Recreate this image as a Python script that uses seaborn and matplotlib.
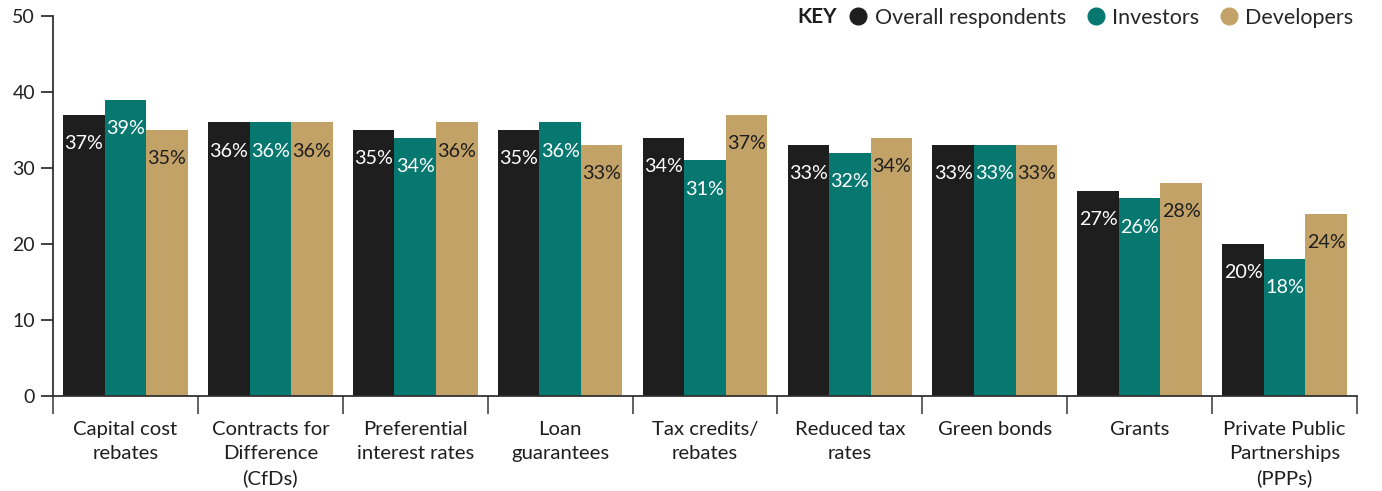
import matplotlib
matplotlib.use("Agg")
import matplotlib.pyplot as plt
from matplotlib.lines import Line2D
import numpy as np
import pandas as pd
import seaborn as sns

categories = [
    "Capital cost\nrebates",
    "Contracts for\nDifference\n(CfDs)",
    "Preferential\ninterest rates",
    "Loan\nguarantees",
    "Tax credits/\nrebates",
    "Reduced tax\nrates",
    "Green bonds",
    "Grants",
    "Private Public\nPartnerships\n(PPPs)",
]
overall = [37, 36, 35, 35, 34, 33, 33, 27, 20]
investors = [39, 36, 34, 36, 31, 32, 33, 26, 18]
developers = [35, 36, 36, 33, 37, 34, 33, 28, 24]
series_names = ["Overall respondents", "Investors", "Developers"]
colors = ["#1e1e1e", "#077870", "#c2a267"]
label_colors = ["white", "white", "#1e1e1e"]
yticks = [0, 10, 20, 30, 40, 50]

sns.set_theme(style="white")
plt.rcParams["font.family"] = ["Lato", "DejaVu Sans"]

df = pd.DataFrame({
    "category": np.repeat(categories, 3),
    "group": series_names * len(categories),
    "value": np.ravel(np.column_stack([overall, investors, developers])),
})

fig = plt.figure(figsize=(13.82, 4.91), dpi=100)
ax = fig.add_axes([53 / 1382, 95 / 491, 1304 / 1382, 380 / 491])

sns.barplot(data=df, x="category", y="value", hue="group",
            hue_order=series_names, palette=colors, width=0.86,
            saturation=1, linewidth=0, ax=ax, legend=False)

# value labels inside the top of each bar
for cont, lc in zip(ax.containers, label_colors):
    for bar in cont:
        h = bar.get_height()
        ax.annotate(f"{h:.0f}%", (bar.get_x() + bar.get_width() / 2, h),
                    xytext=(0, -14.5), textcoords="offset points",
                    ha="center", va="top", color=lc, fontsize=14.2)

ax.set_xlim(-0.5, len(categories) - 0.5)
ax.set_ylim(0, 50)
ax.set_yticks(yticks)
ax.set_xlabel("")
ax.set_ylabel("")

for s in ["top", "right"]:
    ax.spines[s].set_visible(False)
for s in ["left", "bottom"]:
    ax.spines[s].set_color("#333333")
    ax.spines[s].set_linewidth(1.3)

ax.tick_params(axis="y", length=9, width=1.3, color="#333333",
               labelsize=14, labelcolor="#222222", pad=4, left=True)
# category names drawn under the axis with wider line spacing
ax.tick_params(axis="x", which="major", length=0, labelbottom=False)
for i, name in enumerate(categories):
    ax.annotate(name, (i, 0), xycoords=("data", "axes fraction"),
                xytext=(0, -18), textcoords="offset points",
                ha="center", va="top", fontsize=14.6, color="#1e1e1e",
                linespacing=1.48)
ax.set_xticks(np.arange(-0.5, len(categories)), minor=True)
ax.tick_params(axis="x", which="minor", length=13, width=1.3,
               color="#555555", bottom=True)

# legend across the top right
handles = [Line2D([], [], marker="o", linestyle="", markersize=12,
                  markerfacecolor=c, markeredgecolor=c) for c in colors]
leg = ax.legend(handles, series_names, loc="upper right", ncol=3,
                bbox_to_anchor=(1.004, 1.044), frameon=False, fontsize=15.5,
                handletextpad=0.35, columnspacing=1.0, handlelength=0.8,
                borderaxespad=0)
fig.text(797 / 1382, 1 - 17 / 491, "KEY", fontsize=15, fontweight="bold",
         color="#1e1e1e", ha="left", va="center")

fig.savefig("out.png", dpi=100)
